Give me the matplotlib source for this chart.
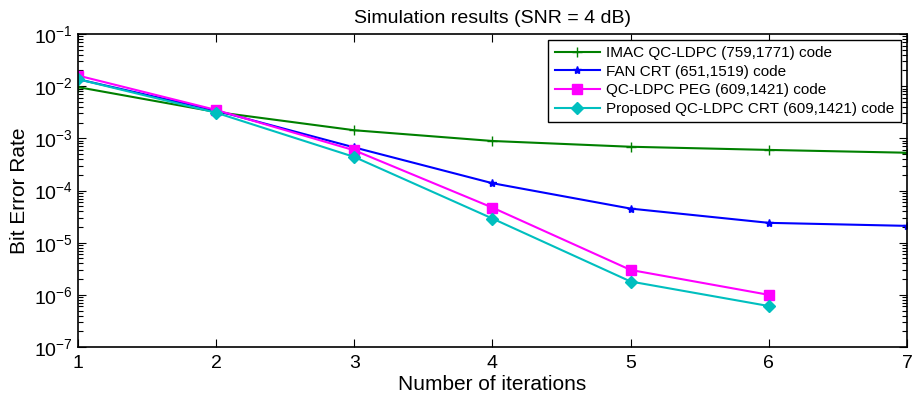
import matplotlib
matplotlib.use('Agg')
import matplotlib.pyplot as plt
from matplotlib.ticker import LogLocator, NullFormatter

plt.rcParams['font.family'] = ['Liberation Sans', 'DejaVu Sans']

iters = [1, 2, 3, 4, 5, 6, 7]
iters_short = [1, 2, 3, 4, 5, 6]

ber_imac = [9.6e-3, 3.2e-3, 1.43e-3, 8.9e-4, 6.9e-4, 6.0e-4, 5.3e-4]
ber_fan = [1.36e-2, 3.4e-3, 6.7e-4, 1.38e-4, 4.5e-5, 2.4e-5, 2.1e-5]
ber_peg = [1.6e-2, 3.5e-3, 5.9e-4, 4.7e-5, 3.0e-6, 1.0e-6]
ber_crt = [1.36e-2, 3.1e-3, 4.4e-4, 2.9e-5, 1.8e-6, 6.1e-7]

labels = ['IMAC QC-LDPC (759,1771) code',
          'FAN CRT (651,1519) code',
          'QC-LDPC PEG (609,1421) code',
          'Proposed QC-LDPC CRT (609,1421) code']

fig = plt.figure(figsize=(9.15, 4.05), dpi=100)
ax = fig.add_axes([0.0852, 0.1432, 0.906, 0.7728])

ax.semilogy(iters, ber_imac, color='#008000', marker='+', ms=7, lw=1.5, label=labels[0])
ax.semilogy(iters, ber_fan, color='#0000ff', marker='*', ms=6, lw=1.5, label=labels[1])
ax.semilogy(iters_short, ber_peg, color='#ff00ff', marker='s', ms=7, lw=1.5, label=labels[2])
ax.semilogy(iters_short, ber_crt, color='#00bfbf', marker='D', ms=6, lw=1.5, label=labels[3])

ax.set_xlim(1, 7)
ax.set_ylim(1e-7, 1e-1)
ax.set_xticks(iters)
ax.set_yticks([10.0 ** e for e in range(-7, 0)])
ax.yaxis.set_minor_locator(LogLocator(base=10, subs=range(2, 10), numticks=100))
ax.yaxis.set_minor_formatter(NullFormatter())
ax.tick_params(which='both', direction='in', top=True, right=True, labelsize=14)
ax.tick_params(axis='x', pad=6)
ax.tick_params(which='major', length=6)
ax.tick_params(which='minor', length=3.5, width=0.8)
for s in ax.spines.values():
    s.set_linewidth(1.2)

ax.set_xlabel('Number of iterations', fontsize=15, labelpad=2)
ax.set_ylabel('Bit Error Rate', fontsize=15, labelpad=4)
ax.set_title('Simulation results (SNR = 4 dB)', fontsize=14, pad=8)

leg = ax.legend(loc='upper right', fontsize=11, fancybox=False, edgecolor='black',
                framealpha=1, borderaxespad=0.4, handlelength=3, labelspacing=0.3,
                handletextpad=0.4)
leg.get_frame().set_linewidth(1.0)

fig.savefig('out.png', dpi=100)
